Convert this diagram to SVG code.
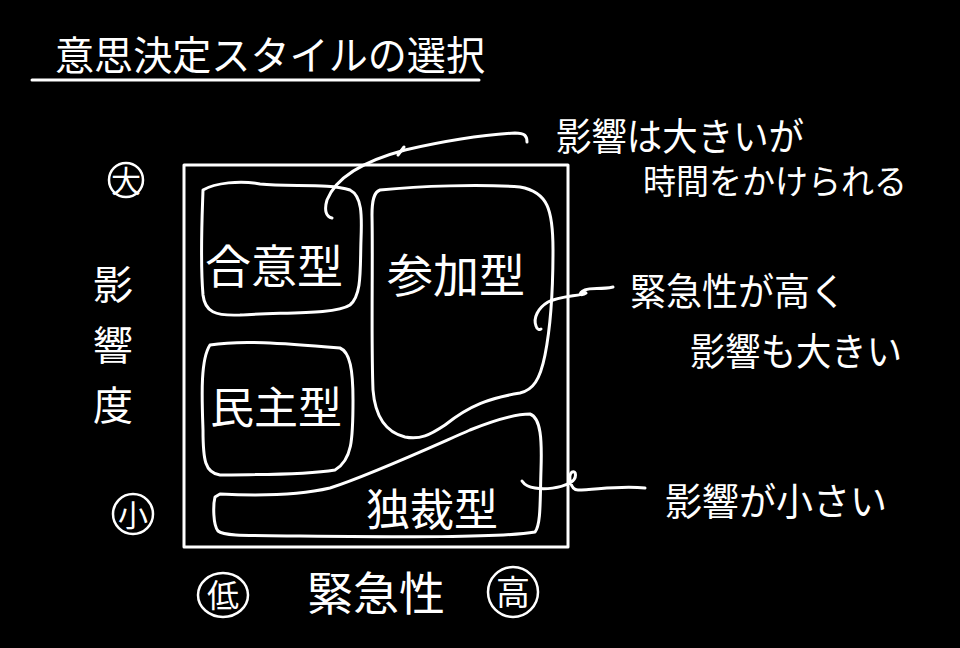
<svg xmlns="http://www.w3.org/2000/svg" width="960" height="648" viewBox="0 0 960 648">
<style>
.t{font-family:"Noto Sans CJK JP","Noto Sans CJK SC",sans-serif;fill:#fff;}
.s{fill:none;stroke:#fff;stroke-width:3;stroke-linecap:round;stroke-linejoin:round;}
.c{fill:none;stroke:#fff;stroke-width:2.5;}
</style>
<rect x="0" y="0" width="960" height="648" fill="#000"/>
<g id="title">
<text class="t" x="55" y="70" font-size="40" textLength="430" lengthAdjust="spacingAndGlyphs">意思決定スタイルの選択</text>
<line class="s" x1="32" y1="80" x2="479" y2="80"/>
</g>
<g id="frame">
<rect class="s" x="184" y="165" width="384" height="382"/>
</g>
<g id="axis-y">
<circle class="c" cx="126" cy="180" r="17"/>
<text class="t" x="126" y="192" font-size="30" text-anchor="middle">大</text>
<text class="t" x="113" y="299" font-size="40" text-anchor="middle">影</text>
<text class="t" x="113" y="360" font-size="40" text-anchor="middle">響</text>
<text class="t" x="113" y="420" font-size="40" text-anchor="middle">度</text>
<circle class="c" cx="133" cy="514" r="20"/>
<text class="t" x="133" y="526" font-size="30" text-anchor="middle">小</text>
</g>
<g id="axis-x">
<ellipse class="c" cx="223" cy="595" rx="25" ry="22"/>
<text class="t" x="223" y="607" font-size="32" text-anchor="middle">低</text>
<text class="t" x="376" y="610" font-size="46" text-anchor="middle">緊急性</text>
<circle class="c" cx="513" cy="592" r="25"/>
<text class="t" x="513" y="605" font-size="34" text-anchor="middle">高</text>
</g>
<g id="node-goui">
<path class="s" d="M203,190 C215,183 240,180 260,184 C290,187 330,183 350,190 C362,196 362,215 361,240 C360,270 362,295 350,305 C335,315 280,312 240,315 C215,316 205,312 203,295 C200,260 202,220 203,190 Z"/>
<text class="t" x="274" y="283" font-size="46" text-anchor="middle">合意型</text>
</g>
<g id="node-sanka">
<path class="s" d="M380,190 C420,186 480,184 520,187 C548,192 553,210 553,250 C553,300 550,330 545,355 C540,380 533,390 520,393 C490,398 470,405 445,425 C430,435 420,440 405,437 C385,432 375,415 373,390 C371,340 373,260 372,215 C372,200 374,192 380,190 Z"/>
<text class="t" x="456" y="292" font-size="46" text-anchor="middle">参加型</text>
</g>
<g id="node-minshu">
<path class="s" d="M210,345 C240,340 280,343 340,348 C350,352 353,370 353,400 C353,440 352,460 335,470 C300,476 250,474 220,475 C205,473 203,460 203,430 C202,400 200,360 210,345 Z"/>
<text class="t" x="276" y="424" font-size="44" text-anchor="middle">民主型</text>
</g>
<g id="node-dokusai">
<path class="s" d="M220,494 C260,496 300,495 330,488 C370,475 420,452 470,430 C495,420 515,414 530,414 C541,418 542,440 541,470 C540,500 541,525 535,532 C500,538 400,537 300,536 C260,535 225,537 218,531 C213,525 213,505 215,497 Z"/>
<text class="t" x="432" y="526" font-size="44" text-anchor="middle">独裁型</text>
</g>
<g id="connectors">
<path class="s" d="M527,142 C527,136 525,133 515,133 C480,135 440,142 405,150 C360,162 335,180 327,200 C324,210 326,217 332,218"/>
<path class="s" d="M404,147 L398,155"/>
<path class="s" d="M613,287 C600,290 592,287 585,290 C578,293 580,297 586,293 C580,296 560,296 548,302 C538,308 533,318 536,326 C537,330 540,330 541,329"/>
<path class="s" d="M645,488 C620,485 595,490 578,490 C570,490 568,475 572,472 C576,470 578,478 570,483 C560,488 545,490 535,488 C528,487 524,484 522,481"/>
</g>
<g id="label-1">
<text class="t" x="556" y="150" font-size="38" textLength="248" lengthAdjust="spacingAndGlyphs">影響は大きいが</text>
<text class="t" x="643" y="194" font-size="34" textLength="264" lengthAdjust="spacingAndGlyphs">時間をかけられる</text>
</g>
<g id="label-2">
<text class="t" x="630" y="305" font-size="38" textLength="216" lengthAdjust="spacingAndGlyphs">緊急性が高く</text>
<text class="t" x="690" y="365" font-size="38" textLength="212" lengthAdjust="spacingAndGlyphs">影響も大きい</text>
</g>
<g id="label-3">
<text class="t" x="665" y="515" font-size="38" textLength="222" lengthAdjust="spacingAndGlyphs">影響が小さい</text>
</g>
</svg>
